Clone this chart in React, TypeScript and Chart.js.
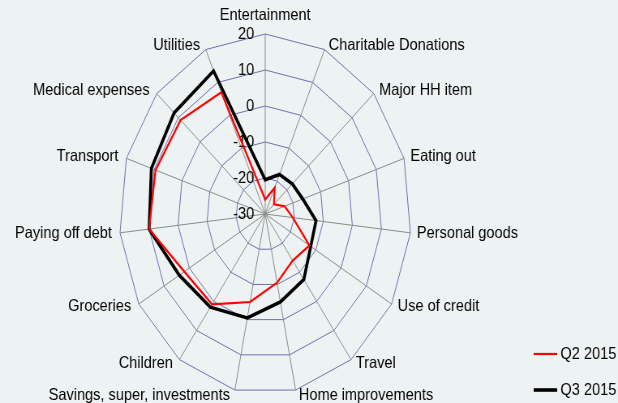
import React, { useEffect, useRef } from "react";
import { Chart, registerables } from "chart.js";

Chart.register(...registerables);

const categories = [
  "Entertainment",
  "Charitable Donations",
  "Major HH item",
  "Eating out",
  "Personal goods",
  "Use of credit",
  "Travel",
  "Home improvements",
  "Savings, super, investments",
  "Children",
  "Groceries",
  "Paying off debt",
  "Transport",
  "Medical expenses",
  "Utilities",
];
const q2_2015 = [-26, -22, -26, -23, -20.5, -12.5, -14, -10.5, -5, 1, 2, 10, 9.5, 9, 7];
const q3_2015 = [-20.5, -18, -17.5, -16.5, -12.5, -12, -7.5, -5, -0.5, 2, 4, 10, 11, 12, 13.5];
const tickValues = [-30, -20, -10, 0, 10, 20];
const seriesNames = ["Q2 2015", "Q3 2015"];
const seriesColors = ["#ff0000", "#000000"];
const seriesWidths = [2.2, 3.6];

const CSS_W = 618;
const CSS_H = 403;
const INT_W = 762;
const SX = CSS_W / INT_W;
const K = 0.91 / SX;
const FONT = '16.5px "Liberation Sans", Arial, sans-serif';
const TEXT_COLOR = "#000000";

function drawText(ctx: CanvasRenderingContext2D, text: string, x: number, y: number, align: CanvasTextAlign, baseline: CanvasTextBaseline) {
  ctx.save();
  ctx.translate(x, y);
  ctx.scale(K * 0.97, 1);
  ctx.font = FONT;
  ctx.fillStyle = TEXT_COLOR;
  ctx.textAlign = align;
  ctx.textBaseline = baseline;
  ctx.fillText(text, 0, 0);
  ctx.restore();
}

const labelPlugin = {
  id: "customLabels",
  beforeDatasetsDraw(chart: any) {
    const ctx = chart.ctx as CanvasRenderingContext2D;
    const r = chart.scales.r;
    tickValues.forEach((v) => {
      const d = r.getDistanceFromCenterForValue(v);
      drawText(ctx, String(v), r.xCenter - 13.5, r.yCenter - d, "right", "middle");
    });
  },
  afterDraw(chart: any) {
    const ctx = chart.ctx as CanvasRenderingContext2D;
    const r = chart.scales.r;
    const labels = chart.data.labels as string[];
    const n = labels.length;
    labels.forEach((lab, i) => {
      const deg = (i * 360) / n;
      if (i === 0) {
        const p = r.getPointPosition(0, r.drawingArea);
        drawText(ctx, lab, p.x, p.y - 14, "center", "alphabetic");
      } else {
        const p = r.getPointPosition(i, r.drawingArea + 5);
        const left = deg < 180;
        drawText(ctx, lab, p.x + (left ? 3 : -5), p.y, left ? "left" : "right", "middle");
      }
    });
    // legend
    const legendY = [354, 390];
    chart.data.datasets.forEach((ds: any, i: number) => {
      const y = legendY[i];
      ctx.save();
      ctx.strokeStyle = ds.borderColor;
      ctx.lineWidth = ds.borderWidth;
      ctx.beginPath();
      ctx.moveTo(658, y);
      ctx.lineTo(687, y);
      ctx.stroke();
      ctx.restore();
      drawText(ctx, ds.label, 691, y, "left", "middle");
    });
  },
};

export default function App() {
  const ref = useRef<HTMLCanvasElement | null>(null);
  useEffect(() => {
    if (!ref.current) return;
    const chart = new Chart(ref.current, {
      type: "radar",
      data: {
        labels: categories,
        datasets: [q2_2015, q3_2015].map((d, i) => ({
          label: seriesNames[i],
          data: d,
          borderColor: seriesColors[i],
          backgroundColor: seriesColors[i],
          borderWidth: seriesWidths[i],
          pointRadius: 0,
          pointHoverRadius: 0,
          fill: false,
          tension: 0,
        })),
      },
      options: {
        responsive: false,
        devicePixelRatio: 1,
        animation: false,
        layout: { padding: { left: 147, right: 255, top: 34, bottom: 9 } },
        plugins: { legend: { display: false }, tooltip: { enabled: false } },
        scales: {
          r: {
            min: -30,
            max: 20,
            ticks: { display: false, stepSize: 10 },
            pointLabels: { display: false },
            grid: { color: "#6e6eb0", lineWidth: 1 },
            angleLines: { color: "#8a8a8a", lineWidth: 1 },
          },
        },
      },
      plugins: [labelPlugin],
    });
    return () => chart.destroy();
  }, []);
  return (
    <div style={{ position: "fixed", left: 0, top: 0, width: CSS_W, height: CSS_H, background: "#edf2f2" }}>
      <canvas ref={ref} width={INT_W} height={CSS_H} style={{ width: CSS_W + "px", height: CSS_H + "px", display: "block" }} />
    </div>
  );
}
